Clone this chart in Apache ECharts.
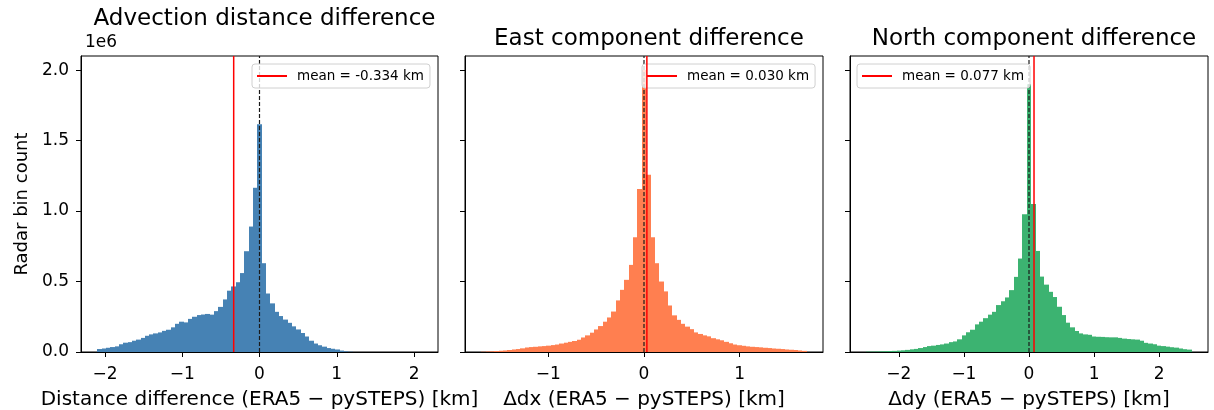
<!DOCTYPE html>
<html>
<head>
<meta charset="utf-8">
<script src="https://cdn.jsdelivr.net/npm/echarts@6/dist/echarts.min.js"></script>
<style>
  html, body { margin: 0; padding: 0; background: #fff; }
  #main { width: 1214px; height: 410px; }
</style>
</head>
<body>
<div id="main"></div>
<script>
// histogram counts, in units of 1e6 radar bins, 75 equal bins over [-lim, lim]
const nBins = 75;
const binLims = [2.1, 1.7, 2.5];

const distCounts = [
  0.021, 0.025, 0.03, 0.035, 0.04, 0.055, 0.066, 0.07, 0.08, 0.088,
  0.1, 0.115, 0.125, 0.132, 0.139, 0.15, 0.158, 0.175, 0.2, 0.215,
  0.21, 0.235, 0.25, 0.262, 0.266, 0.27, 0.265, 0.29, 0.32, 0.373,
  0.435, 0.465, 0.495, 0.56, 0.715, 0.89, 1.165, 1.615, 0.63, 0.415,
  0.345, 0.285, 0.255, 0.23, 0.207, 0.182, 0.16, 0.135, 0.11, 0.08,
  0.06, 0.048, 0.038, 0.028, 0.023, 0.018, 0.01, 0.005, 0.002, 0,
  0, 0, 0, 0, 0, 0, 0, 0, 0, 0,
  0, 0, 0, 0, 0
];

const dxCounts = [
  0.002, 0.004, 0.005, 0.007, 0.009, 0.011, 0.014, 0.018, 0.021, 0.026,
  0.032, 0.035, 0.037, 0.04, 0.042, 0.045, 0.049, 0.053, 0.06, 0.066,
  0.072, 0.078, 0.087, 0.103, 0.118, 0.137, 0.16, 0.184, 0.215, 0.245,
  0.287, 0.366, 0.441, 0.512, 0.618, 0.814, 1.156, 2.0, 1.258, 0.814,
  0.63, 0.5, 0.43, 0.33, 0.26, 0.228, 0.2, 0.18, 0.162, 0.139,
  0.128, 0.118, 0.111, 0.098, 0.09, 0.083, 0.072, 0.062, 0.053, 0.048,
  0.044, 0.04, 0.037, 0.035, 0.033, 0.03, 0.028, 0.025, 0.023, 0.021,
  0.018, 0.016, 0.014, 0.011, 0.008
];

const dyCounts = [
  0.003, 0.003, 0.004, 0.005, 0.006, 0.007, 0.008, 0.01, 0.012, 0.015,
  0.019, 0.022, 0.028, 0.035, 0.042, 0.045, 0.05, 0.054, 0.06, 0.07,
  0.075, 0.09, 0.118, 0.14, 0.158, 0.196, 0.215, 0.24, 0.265, 0.285,
  0.333, 0.36, 0.387, 0.439, 0.533, 0.663, 0.977, 1.9, 1.05, 0.717,
  0.535, 0.478, 0.427, 0.39, 0.321, 0.262, 0.208, 0.175, 0.149, 0.132,
  0.125, 0.122, 0.11, 0.108, 0.107, 0.105, 0.104, 0.104, 0.1, 0.095,
  0.092, 0.09, 0.088, 0.08, 0.065, 0.06, 0.055, 0.045, 0.042, 0.038,
  0.034, 0.031, 0.025, 0.02, 0.017
];

const means = [-0.334, 0.030, 0.077];
const titles = ['Advection distance difference', 'East component difference', 'North component difference'];
const xNames = ['Distance difference (ERA5 \u2212 pySTEPS) [km]', '\u0394dx (ERA5 \u2212 pySTEPS) [km]', '\u0394dy (ERA5 \u2212 pySTEPS) [km]'];
const xTicks = [[-2, -1, 0, 1, 2], [-1, 0, 1], [-2, -1, 0, 1, 2]];
const yTicks = [0, 0.5, 1.0, 1.5, 2.0];
const colors = ['#4682b4', '#ff7f50', '#3cb371'];

const FONT = 'DejaVu Sans';
const yMax = 2.1;
const grids = [
  {left: 81, top: 56, width: 357, height: 296},
  {left: 465, top: 56, width: 358, height: 296},
  {left: 850, top: 56, width: 358, height: 296}
];
const legendLefts = [252, 642, 857];

function binData(counts, lim) {
  const w = 2 * lim / nBins;
  return counts.map((c, i) => [-lim + i * w, -lim + (i + 1) * w, c]);
}

function renderBar(params, api) {
  const p0 = api.coord([api.value(0), api.value(2)]);
  const p1 = api.coord([api.value(1), 0]);
  const x0 = Math.round(p0[0]);
  const x1 = Math.round(p1[0]);
  return {
    type: 'rect',
    shape: {x: x0, y: p0[1], width: x1 - x0, height: p1[1] - p0[1]},
    style: {fill: api.visual('color')}
  };
}

const fmtMinus = v => (v < 0 ? '\u2212' + Math.abs(v) : String(v));

const allCounts = [distCounts, dxCounts, dyCounts];
const series = [];
const legends = [];

allCounts.forEach((counts, k) => {
  series.push({
    type: 'custom',
    xAxisIndex: k,
    yAxisIndex: k,
    renderItem: renderBar,
    clip: true,
    itemStyle: {color: colors[k]},
    encode: {x: [0, 1], y: 2},
    data: binData(counts, binLims[k]),
    z: 2
  });
  const meanName = 'mean = ' + means[k].toFixed(3) + ' km';
  series.push({
    type: 'line',
    name: meanName,
    xAxisIndex: k,
    yAxisIndex: k,
    symbol: 'none',
    color: 'red',
    lineStyle: {color: 'red', width: 1.5},
    data: [[means[k], 0], [means[k], yMax]],
    z: 4,
    silent: true
  });
  series.push({
    type: 'line',
    xAxisIndex: k,
    yAxisIndex: k,
    symbol: 'none',
    lineStyle: {color: '#1a1a1a', width: 1.2, type: [4, 2]},
    data: [[0, 0], [0, yMax]],
    z: 3,
    silent: true
  });
  legends.push({
    left: legendLefts[k],
    top: 64,
    orient: 'vertical',
    data: [{name: meanName, icon: 'rect'}],
    itemWidth: 30,
    itemHeight: 2,
    padding: [5, 6, 5, 5],
    backgroundColor: 'rgba(255,255,255,0.8)',
    borderColor: '#d0d0d0',
    borderWidth: 1,
    borderRadius: 3,
    selectedMode: false,
    textStyle: {fontFamily: FONT, fontSize: 13.5, color: '#000', padding: [0, 0, 0, 5]}
  });
});

const option = {
  animation: false,
  backgroundColor: '#fff',
  title: titles.map((t, k) => ({
    text: t,
    left: grids[k].left + grids[k].width / 2,
    top: k === 0 ? 3 : 23,
    textAlign: 'center',
    textStyle: {fontFamily: FONT, fontSize: 23, fontWeight: 'normal', color: '#000'}
  })).concat([{
    text: '1e6',
    left: 80,
    top: 29,
    textStyle: {fontFamily: FONT, fontSize: 17, fontWeight: 'normal', color: '#000'}
  }]),
  legend: legends,
  grid: grids.map(g => Object.assign({
    show: true,
    borderColor: '#000',
    borderWidth: 1,
    backgroundColor: 'transparent',
    containLabel: false,
    outerBoundsMode: 'none'
  }, g)),
  xAxis: grids.map((g, k) => ({
    type: 'value',
    gridIndex: k,
    min: -binLims[k] * 1.1,
    max: binLims[k] * 1.1,
    name: xNames[k],
    nameLocation: 'middle',
    nameGap: 38,
    nameTextStyle: {fontFamily: FONT, fontSize: 20, color: '#000'},
    axisLine: {show: true, onZero: false, lineStyle: {color: '#000', width: 1}},
    axisTick: {show: true, inside: false, length: 5, customValues: xTicks[k], lineStyle: {color: '#000'}},
    axisLabel: {customValues: xTicks[k], formatter: fmtMinus, margin: 14, fontFamily: FONT, fontSize: 17, color: '#000'},
    splitLine: {show: false}
  })),
  yAxis: grids.map((g, k) => ({
    type: 'value',
    gridIndex: k,
    min: 0,
    max: yMax,
    name: k === 0 ? 'Radar bin count' : '',
    nameLocation: 'middle',
    nameGap: 50,
    nameTextStyle: {fontFamily: FONT, fontSize: 18, color: '#000'},
    axisLine: {show: true, onZero: false, lineStyle: {color: '#000', width: 1}},
    axisTick: {show: true, inside: false, length: 5, customValues: yTicks, lineStyle: {color: '#000'}},
    axisLabel: {
      show: k === 0,
      customValues: yTicks,
      formatter: v => v.toFixed(1),
      margin: 12,
      fontFamily: FONT,
      fontSize: 17,
      color: '#000'
    },
    splitLine: {show: false}
  })),
  series: series
};

const chart = echarts.init(document.getElementById('main'), null, {renderer: 'canvas'});
chart.setOption(option);
</script>
</body>
</html>
